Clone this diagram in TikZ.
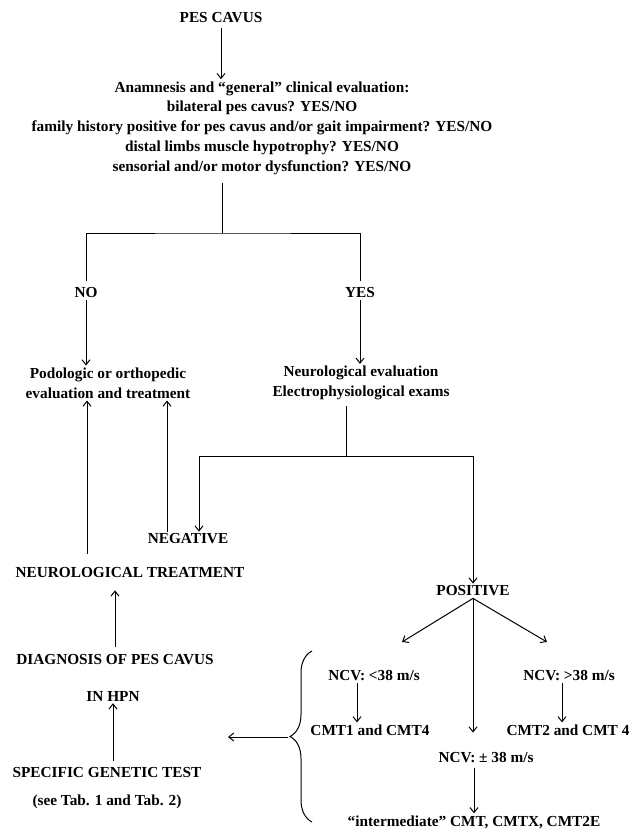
\documentclass[tikz,border=0pt]{standalone}
\usepackage{fontspec}
\setmainfont{Liberation Serif}
\usepackage{tikz}
\usetikzlibrary{arrows.meta, decorations.pathreplacing}

\begin{document}
\begin{tikzpicture}[x=1pt, y=-1pt,
    lbl/.style={font=\bfseries\fontsize{15.3}{19.8}\selectfont, align=center, inner sep=2pt},
    arr/.style={-{Straight Barb[length=5pt, width=8pt]}, line width=1pt},
    ln/.style={line width=1pt}]
        \useasboundingbox (0,0) rectangle (632,831);

        % Top
        \node[lbl] (pes) at (221,18) {PES CAVUS};
        \node[lbl] (anam) at (262,128) {Anamnesis and “general” clinical evaluation:\\ bilateral pes cavus? YES/NO\\ family history positive for pes cavus and/or gait impairment? YES/NO\\ distal limbs muscle hypotrophy? YES/NO\\ sensorial and/or motor dysfunction? YES/NO};

        % First split
        \node[lbl] (no) at (86,293) {NO};
        \node[lbl] (yes) at (360,293) {YES};
        \node[lbl] (podo) at (108,383) {Podologic or orthopedic\\ evaluation and treatment};
        \node[lbl] (neuro) at (361,383) {Neurological evaluation\\ Electrophysiological exams};

        % Left column
        \node[lbl] (neg) at (188,539) {NEGATIVE};
        \node[lbl] (treat) at (130,573) {NEUROLOGICAL TREATMENT};
        \node[lbl] (diag) at (115,660) {DIAGNOSIS OF PES CAVUS};
        \node[lbl] (hpn) at (113,696) {IN HPN};
        \node[lbl] (spec) at (107,772) {SPECIFIC GENETIC TEST};
        \node[lbl] (tab) at (107,802) {(see Tab. 1 and Tab. 2)};

        % Right column
        \node[lbl] (pos) at (473,591) {POSITIVE};
        \node[lbl] (ncvlow) at (374,676) {NCV: <38 m/s};
        \node[lbl] (cmtlow) at (370,730) {CMT1 and CMT4};
        \node[lbl] (ncvhigh) at (569,676) {NCV: >38 m/s};
        \node[lbl] (cmthigh) at (568,730) {CMT2 and CMT 4};
        \node[lbl] (ncvmid) at (486,758) {NCV: ± 38 m/s};
        \node[lbl] (inter) at (474,822) {“intermediate” CMT, CMTX, CMT2E};

        % Helper points
        \coordinate (fork) at (222,233);
        \coordinate (split) at (346,456);
        \coordinate (negin) at ([xshift=11pt]neg.north);
        \coordinate (negout) at ([xshift=-21pt]neg.north);
        \coordinate (treatout) at ([xshift=-43pt,yshift=12pt]treat.north);
        \coordinate (lowout) at ([xshift=-17pt]ncvlow.south);
        \coordinate (highout) at ([xshift=-7pt]ncvhigh.south);
        \coordinate (lowin) at (402,642);
        \coordinate (highin) at (547,642);
        \coordinate (bracetop) at (312,651);
        \coordinate (bracebot) at (312,822);
        \coordinate (bracetip) at (288,737);
        \coordinate (genin) at (228,737);

        % Arrows
        \draw[arr, shorten <=3pt] (pes.south) -- (pes.south |- anam.north);
        \draw[ln, shorten <=6pt] (anam.south -| fork) -- (fork);
        \draw[ln, shorten <=5pt] (no.north) |- (fork) -| ([yshift=5pt]yes.north);
        \draw[arr] (no.south) -- (no.south |- podo.north);
        \draw[arr] (yes.south) -- (yes.south |- neuro.north);
        \draw[ln, shorten <=4pt] (neuro.south -| split) -- (split);
        \draw[arr] (split) -| (negin);
        \draw[arr] (split) -| (pos.north);
        \draw[arr] (negout) -- (negout |- podo.south);
        \draw[arr] (treatout) -- (treatout |- podo.south);
        \draw[arr, shorten <=6pt, shorten >=10pt] (diag.north) -- (diag.north |- treat.south);
        \draw[arr, shorten <=4pt] (hpn.south |- spec.north) -- (hpn.south);
        \draw[arr] (pos.south) -- (lowin);
        \draw[arr] (pos.south) -- (highin);
        \draw[arr, shorten >=18pt] (pos.south) -- (pos.south |- ncvmid.north);
        \draw[arr] (lowout) -- (lowout |- cmtlow.north);
        \draw[arr] (highout) -- (highout |- cmthigh.north);
        \draw[arr, shorten <=3pt] (inter.north |- ncvmid.south) -- (inter.north);

        % Brace
        \draw[ln, decorate, decoration={brace, amplitude=22pt}] (bracebot) -- (bracetop);
        \draw[arr] (bracetip) -- (genin);
\end{tikzpicture}
\end{document}
